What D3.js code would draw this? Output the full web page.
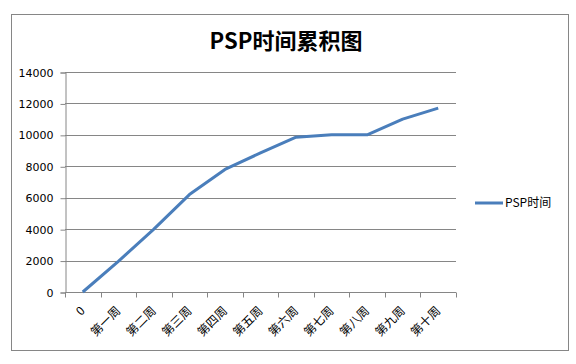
<!DOCTYPE html>
<html>
<head>
<meta charset="utf-8">
<script src="https://cdn.jsdelivr.net/npm/d3@7"></script>
<style>
  body { margin: 0; background: #fff; }
  text { font-family: "DejaVu Sans", sans-serif; fill: #000; }
</style>
</head>
<body>
<div id="chart"></div>
<script>
// data
const weeks = ['0', '第一周', '第二周', '第三周', '第四周', '第五周', '第六周', '第七周', '第八周', '第九周', '第十周'];
const pspTime = [0, 1950, 4000, 6200, 7800, 8850, 9850, 10000, 10000, 11000, 11700];
const yTicks = [0, 2000, 4000, 6000, 8000, 10000, 12000, 14000];
const seriesName = 'PSP时间';
const mainTitle = 'PSP时间累积图';

const width = 576;
const height = 364;
const plot = { left: 65, right: 456, top: 72, bottom: 292 };
const gridColor = '#868686';
const lineColor = '#4a7ebb';

const svg = d3.select('#chart').append('svg')
  .attr('width', width)
  .attr('height', height);

// outer frame
svg.append('rect')
  .attr('x', 11.5).attr('y', 14.5)
  .attr('width', 557).attr('height', 336)
  .attr('fill', '#fff')
  .attr('stroke', gridColor)
  .attr('stroke-width', 1);

// title
svg.append('text')
  .attr('x', 286).attr('y', 49)
  .style('font-family', '"Noto Sans CJK SC", sans-serif')
  .style('font-size', '22px')
  .style('font-weight', 'bold')
  .style('text-anchor', 'middle')
  .text(mainTitle);

const x = d3.scaleBand().domain(weeks).range([plot.left, plot.right]);
const y = d3.scaleLinear().domain([0, 14000]).range([plot.bottom, plot.top]);

// gridlines
svg.append('g')
  .selectAll('line')
  .data(yTicks)
  .join('line')
  .attr('x1', plot.left).attr('x2', plot.right)
  .attr('y1', d => Math.round(y(d)) + 0.5)
  .attr('y2', d => Math.round(y(d)) + 0.5)
  .attr('stroke', gridColor);

// y axis
const yAxis = svg.append('g')
  .attr('transform', 'translate(' + (plot.left + 0.5) + ',0.5)')
  .call(d3.axisLeft(y).tickValues(yTicks).tickSize(5).tickPadding(7).tickFormat(d3.format('d')));
yAxis.select('.domain').attr('stroke', gridColor);
yAxis.selectAll('.tick line').attr('stroke', gridColor);
yAxis.selectAll('.tick text')
  .style('font-size', '11px')
  .style('font-family', '"DejaVu Sans", sans-serif');

// x axis (ticks between categories)
const xg = svg.append('g')
  .attr('transform', 'translate(0,' + (Math.round(y(0)) + 0.5) + ')');
xg.append('line')
  .attr('x1', plot.left).attr('x2', plot.right)
  .attr('stroke', gridColor);
const bounds = weeks.map(d => x(d)).concat([plot.right]);
xg.selectAll('line.tk')
  .data(bounds)
  .join('line')
  .attr('class', 'tk')
  .attr('x1', d => Math.round(d) + 0.5).attr('x2', d => Math.round(d) + 0.5)
  .attr('y1', 0).attr('y2', 5)
  .attr('stroke', gridColor);
xg.selectAll('text')
  .data(weeks)
  .join('text')
  .attr('transform', d => 'translate(' + (x(d) + x.bandwidth() / 2) + ',16) rotate(-45)')
  .attr('dy', '0.35em')
  .style('text-anchor', 'end')
  .style('font-family', '"Noto Sans CJK SC", sans-serif')
  .style('font-size', '12px')
  .text(d => d);

// series line
const line = d3.line()
  .x((d, i) => x(weeks[i]) + x.bandwidth() / 2)
  .y(d => y(d));
svg.append('path')
  .datum(pspTime)
  .attr('d', line)
  .attr('fill', 'none')
  .attr('stroke', lineColor)
  .attr('stroke-width', 3)
  .attr('stroke-linejoin', 'round');

// legend
const lg = svg.append('g').attr('transform', 'translate(475,203)');
lg.append('line')
  .attr('x1', 0).attr('x2', 28)
  .attr('stroke', lineColor)
  .attr('stroke-width', 3);
lg.append('text')
  .attr('x', 30).attr('y', 0)
  .attr('dy', '0.35em')
  .style('font-family', '"Noto Sans CJK SC", sans-serif')
  .style('font-size', '12px')
  .text(seriesName);
</script>
</body>
</html>
